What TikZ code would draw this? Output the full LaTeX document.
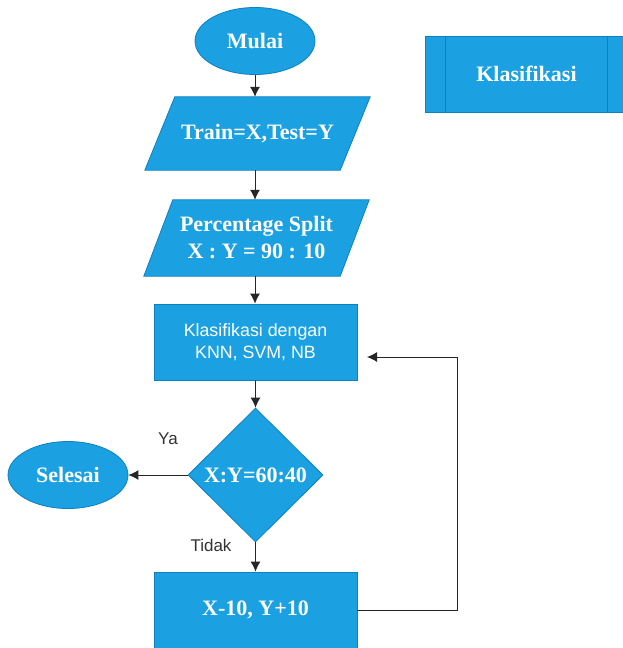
\documentclass[tikz,border=0pt]{standalone}
\usepackage{fontspec}
\setmainfont{Liberation Serif}
\setsansfont{Liberation Sans}
\usetikzlibrary{shapes.geometric,arrows.meta,backgrounds}
\definecolor{fillblue}{HTML}{1BA1E2}
\definecolor{edgeblue}{HTML}{0E7FBF}
\begin{document}
\begin{tikzpicture}[x=1pt,y=-1pt,
  shp/.style={fill=fillblue,draw=edgeblue,line width=0.8pt},
  bold/.style={text=white,font=\fontsize{22}{27}\selectfont\bfseries,align=center},
  sanstxt/.style={text=white,font=\sffamily\fontsize{17.8}{22}\selectfont,align=center},
  term/.style={shp,bold,ellipse,minimum width=120pt,minimum height=67pt,inner sep=0pt},
  procbox/.style={shp,rectangle,minimum width=203pt,minimum height=76pt,inner sep=0pt},
  plain/.style={inner sep=0pt,minimum width=225pt,minimum height=73pt},
  conn/.style={line width=1pt,draw=black!85,-{Latex[length=10pt,width=10pt]}},
  lab/.style={font=\sffamily\fontsize{17}{20}\selectfont,text=black!80}
]
\useasboundingbox (0,0) rectangle (623,648);

\node[term] (mulai) at (255,41) {Mulai};

\node[plain,bold] (train) at (257.5,133.5) {Train=X,Test=Y};
\node[plain,bold,minimum height=76pt] (split) at (256.5,238) {Percentage Split\\X : Y = 90 : 10};
\begin{scope}[on background layer]
  \fill[white] (0,0) rectangle (623,648);
  \path[shp] ([xshift=30pt]train.north west) -- (train.north east) -- ([xshift=-30pt]train.south east) -- (train.south west) -- cycle;
  \path[shp] ([xshift=29pt]split.north west) -- (split.north east) -- ([xshift=-29pt]split.south east) -- (split.south west) -- cycle;
\end{scope}

\node[procbox,sanstxt] (klas) at (255.5,342) {Klasifikasi dengan\\KNN, SVM, NB};

\node[shp,bold,diamond,minimum width=135pt,minimum height=134pt,inner sep=0pt] (dec) at (255.5,475) {X:Y=60:40};

\node[term] (selesai) at (68,475) {Selesai};

\node[procbox,bold,minimum height=76pt] (upd) at (255.5,610) {X-10, Y+10};

% predefined process
\node[shp,rectangle,minimum width=203pt,minimum height=76pt,inner sep=0pt] (proc) at (526.5,74) {};
\draw[edgeblue,line width=0.8pt] ([xshift=21pt]proc.north west) -- ([xshift=21pt]proc.south west);
\draw[edgeblue,line width=0.8pt] ([xshift=-21pt]proc.north east) -- ([xshift=-21pt]proc.south east);
\node[bold] (proctxt) at (proc.center) {Klasifikasi};

\coordinate (loopA) at (457,610);
\coordinate (loopB) at (457,357);
\coordinate (loopEnd) at (367,357);

\draw[conn] (mulai) -- (train.north -| mulai);
\draw[conn] (train.south -| mulai) -- (split.north -| mulai);
\draw[conn] (split.south -| mulai) -- (klas.north -| mulai);
\draw[conn] (klas.south) -- (dec.north);
\draw[conn] (dec.west) -- (selesai.east);
\draw[conn] (dec.south) -- (upd.north);
\draw[conn] (upd.east) -- (loopA) -- (loopB) -- (loopEnd);

\node[lab] (ya) at (168,439) {Ya};
\node[lab] (tidak) at (211,545) {Tidak};
\end{tikzpicture}
\end{document}
